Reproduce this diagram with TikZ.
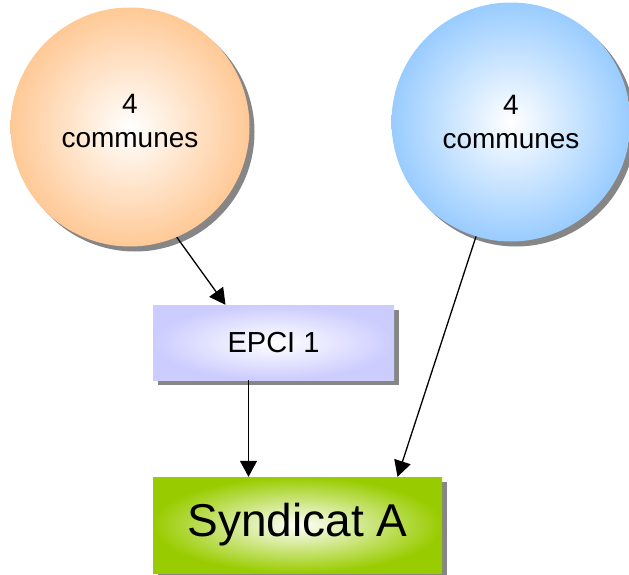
\documentclass[tikz,border=0pt]{standalone}
\usepackage{fontspec}
\setmainfont{Liberation Sans}
\usepackage{tikz}
\usetikzlibrary{arrows.meta, shadows}

\definecolor{peach}{HTML}{FFC996}
\definecolor{skyblue}{HTML}{99CCFF}
\definecolor{lavender}{HTML}{CCCCFF}
\definecolor{lime}{HTML}{99CC00}

\begin{document}
\begin{tikzpicture}[
  x=1pt, y=-1pt,
  shad/.style={drop shadow={shadow xshift=5pt, shadow yshift=-5pt,
               fill=gray!95, opacity=1}},
  blob/.style={circle, shad, inner sep=0pt, minimum size=239pt, align=center,
               font=\fontsize{28}{34}\selectfont},
  box/.style={rectangle, shad, inner sep=0pt, align=center},
  arr/.style={-{Triangle[length=16pt, width=17pt]}, line width=1.3pt},
  ]
  \clip (0,0) rectangle (629,575);
  \useasboundingbox (0,0) rectangle (629,575);

  %% Nodes: two groups of communes, the EPCI, the syndicat
  \node[blob, inner color=white, outer color=peach, text depth=12pt]
        (left)  at (130,127) {4\\communes};
  \node[blob, inner color=white, outer color=skyblue] (right) at (511,122) {4\\communes};
  \node[box, inner color=white, outer color=lavender, minimum width=241pt,
        minimum height=75pt, font=\fontsize{29}{34}\selectfont]
        (epci) at (273.5,342.5) {EPCI 1};
  \node[box, inner color=white, outer color=lime, minimum width=289pt,
        minimum height=96pt, font=\fontsize{46}{52}\selectfont]
        (synd) at (297.5,525) {Syndicat A};

  %% Arrows
  \draw[arr] (left.-67)  -- ([xshift=-48pt]epci.north);
  \draw[arr] ([xshift=-25pt]epci.south) -- ([xshift=-49pt]synd.north);
  \draw[arr] (right.253) -- ([xshift=100pt]synd.north);
\end{tikzpicture}
\end{document}
